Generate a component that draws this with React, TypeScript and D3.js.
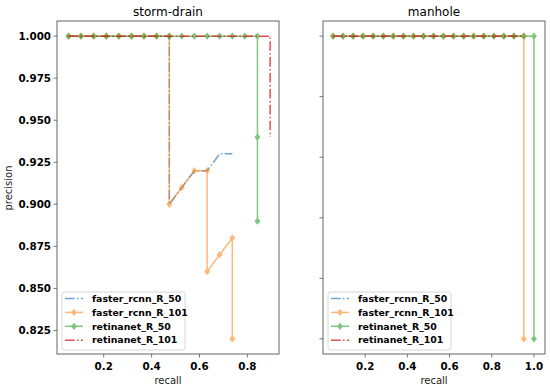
import React from 'react';
import * as d3 from 'd3';

// series names, in plotting order
const models = ['faster_rcnn_R_50', 'faster_rcnn_R_101', 'retinanet_R_50', 'retinanet_R_101'];
const colors = ['#1f77b4', '#ff7f0e', '#2ca02c', '#d62728'];

// storm-drain curves (recall / precision)
const stormFasterR50X = [0.053, 0.105, 0.158, 0.211, 0.263, 0.316, 0.368, 0.421, 0.474, 0.474, 0.526, 0.579, 0.632, 0.684, 0.737];
const stormFasterR50Y = [1, 1, 1, 1, 1, 1, 1, 1, 1, 0.9, 0.91, 0.92, 0.92, 0.93, 0.93];
const stormFasterR101X = [0.053, 0.105, 0.158, 0.211, 0.263, 0.316, 0.368, 0.421, 0.474, 0.474, 0.526, 0.579, 0.632, 0.632, 0.684, 0.737, 0.737];
const stormFasterR101Y = [1, 1, 1, 1, 1, 1, 1, 1, 1, 0.9, 0.91, 0.92, 0.92, 0.86, 0.87, 0.88, 0.82];
const stormRetinaR50X = [0.053, 0.105, 0.158, 0.211, 0.263, 0.316, 0.368, 0.421, 0.474, 0.526, 0.579, 0.632, 0.684, 0.737, 0.789, 0.842, 0.842, 0.842];
const stormRetinaR50Y = [1, 1, 1, 1, 1, 1, 1, 1, 1, 1, 1, 1, 1, 1, 1, 1, 0.94, 0.89];
const stormRetinaR101X = [0.053, 0.105, 0.158, 0.211, 0.263, 0.316, 0.368, 0.421, 0.474, 0.526, 0.579, 0.632, 0.684, 0.737, 0.789, 0.842, 0.895, 0.895];
const stormRetinaR101Y = [1, 1, 1, 1, 1, 1, 1, 1, 1, 1, 1, 1, 1, 1, 1, 1, 1, 0.94];

// manhole curves
const manholeFasterR50X = [0.048, 0.095, 0.143, 0.19, 0.238, 0.286, 0.333, 0.381, 0.429, 0.476, 0.524, 0.571, 0.619, 0.667, 0.714, 0.762, 0.81, 0.857, 0.905, 0.952];
const manholeFasterR50Y = [1, 1, 1, 1, 1, 1, 1, 1, 1, 1, 1, 1, 1, 1, 1, 1, 1, 1, 1, 1];
const manholeFasterR101X = [0.048, 0.095, 0.143, 0.19, 0.238, 0.286, 0.333, 0.381, 0.429, 0.476, 0.524, 0.571, 0.619, 0.667, 0.714, 0.762, 0.81, 0.857, 0.905, 0.952, 0.952];
const manholeFasterR101Y = [1, 1, 1, 1, 1, 1, 1, 1, 1, 1, 1, 1, 1, 1, 1, 1, 1, 1, 1, 1, 0.82];
const manholeRetinaR50X = [0.048, 0.095, 0.143, 0.19, 0.238, 0.286, 0.333, 0.381, 0.429, 0.476, 0.524, 0.571, 0.619, 0.667, 0.714, 0.762, 0.81, 0.857, 0.905, 0.952, 1.0, 1.0];
const manholeRetinaR50Y = [1, 1, 1, 1, 1, 1, 1, 1, 1, 1, 1, 1, 1, 1, 1, 1, 1, 1, 1, 1, 1, 0.82];
const manholeRetinaR101X = [0.048, 0.095, 0.143, 0.19, 0.238, 0.286, 0.333, 0.381, 0.429, 0.476, 0.524, 0.571, 0.619, 0.667, 0.714, 0.762, 0.81, 0.857, 0.905, 0.952];
const manholeRetinaR101Y = [1, 1, 1, 1, 1, 1, 1, 1, 1, 1, 1, 1, 1, 1, 1, 1, 1, 1, 1, 1];

// ticks
const stormYTicks = [0.825, 0.85, 0.875, 0.9, 0.925, 0.95, 0.975, 1.0];
const stormXTicks = [0.2, 0.4, 0.6, 0.8];
const manholeYTicks = [0.82, 0.856, 0.892, 0.928, 0.964, 1.0];
const manholeXTicks = [0.2, 0.4, 0.6, 0.8, 1.0];

const FONT = '"DejaVu Sans", sans-serif';
const DASHDOT = '9.6,2.4,1.5,2.4';
const lineStyle = [DASHDOT, null, null, DASHDOT];
const hasMarker = [false, true, true, false];
const seriesOpacity = [0.65, 0.55, 0.6, 0.8];

type Pt = [number, number];
const zip = (xs: number[], ys: number[]): Pt[] => xs.map((x, i) => [x, ys[i]]);

const diamond = (cx: number, cy: number) =>
  `M${cx},${cy - 3.6}L${cx + 3},${cy}L${cx},${cy + 3.6}L${cx - 3},${cy}Z`;

interface PanelProps {
  title: string;
  left: number;
  right: number;
  xDomain: [number, number];
  series: Pt[][];
  xTicks: number[];
  yTicks: number[];
  showYLabels: boolean;
  legendX: number;
}

const TOP = 21;
const BOTTOM = 354;

const Panel: React.FC<PanelProps> = ({ title, left, right, xDomain, series, xTicks, yTicks, showYLabels, legendX }) => {
  const x = d3.scaleLinear().domain(xDomain).range([left, right]);
  const y = d3.scaleLinear().domain([0.811, 1.009]).range([BOTTOM, TOP]);
  const line = d3
    .line<Pt>()
    .x((d) => x(d[0]))
    .y((d) => y(d[1]));
  const cx = (left + right) / 2;
  const legendY = 292;
  const rowH = 13.9;

  return (
    <g>
      <text x={cx} y={16} textAnchor="middle" fontSize={12} fontFamily={FONT} fill="#000">
        {title}
      </text>
      {/* series */}
      {series.map((pts, i) => (
        <g key={i} opacity={seriesOpacity[i]}>
          <path
            d={line(pts) as string}
            fill="none"
            stroke={colors[i]}
            strokeWidth={1.5}
            strokeDasharray={lineStyle[i] ?? undefined}
          />
          {hasMarker[i] &&
            pts.map((p, j) => <path key={j} d={diamond(x(p[0]), y(p[1]))} fill={colors[i]} />)}
        </g>
      ))}
      {/* frame */}
      <rect x={left} y={TOP} width={right - left} height={BOTTOM - TOP} fill="none" stroke="#555" strokeWidth={0.9} />
      {/* y ticks */}
      {yTicks.map((t) => (
        <g key={t}>
          <line x1={left - 3.5} x2={left} y1={y(t)} y2={y(t)} stroke="#555" strokeWidth={0.8} />
          {showYLabels && (
            <text x={left - 6} y={y(t)} dy="0.35em" textAnchor="end" fontSize={10.3} fontWeight="bold" fontFamily={FONT}>
              {d3.format('.3f')(t)}
            </text>
          )}
        </g>
      ))}
      {/* x ticks */}
      {xTicks.map((t) => (
        <g key={t}>
          <line x1={x(t)} x2={x(t)} y1={BOTTOM} y2={BOTTOM + 3.5} stroke="#555" strokeWidth={0.8} />
          <text x={x(t)} y={BOTTOM + 16} textAnchor="middle" fontSize={10.3} fontWeight="bold" fontFamily={FONT}>
            {d3.format('.1f')(t)}
          </text>
        </g>
      ))}
      <text x={cx} y={384} textAnchor="middle" fontSize={10} fontFamily={FONT} fill="#222">
        recall
      </text>
      {/* legend */}
      <rect x={legendX} y={legendY} width={123} height={58} rx={2.5} fill="#fff" fillOpacity={0.8} stroke="#ccc" strokeWidth={0.8} />
      {models.map((m, i) => {
        const ly = legendY + 6.5 + i * rowH;
        return (
          <g key={m}>
            <g opacity={seriesOpacity[i]}>
              <line
                x1={legendX + 3}
                x2={legendX + 21}
                y1={ly}
                y2={ly}
                stroke={colors[i]}
                strokeWidth={1.5}
                strokeDasharray={lineStyle[i] ?? undefined}
              />
              {hasMarker[i] && <path d={diamond(legendX + 12, ly)} fill={colors[i]} />}
            </g>
            <text x={legendX + 30} y={ly} dy="0.35em" fontSize={9.4} fontWeight="bold" fontFamily={FONT}>
              {m}
            </text>
          </g>
        );
      })}
    </g>
  );
};

const App: React.FC = () => {
  const storm: Pt[][] = [
    zip(stormFasterR50X, stormFasterR50Y),
    zip(stormFasterR101X, stormFasterR101Y),
    zip(stormRetinaR50X, stormRetinaR50Y),
    zip(stormRetinaR101X, stormRetinaR101Y),
  ];
  const manhole: Pt[][] = [
    zip(manholeFasterR50X, manholeFasterR50Y),
    zip(manholeFasterR101X, manholeFasterR101Y),
    zip(manholeRetinaR50X, manholeRetinaR50Y),
    zip(manholeRetinaR101X, manholeRetinaR101Y),
  ];
  return (
    <svg width={550} height={388} style={{ position: 'absolute', left: 0, top: 0, background: '#fff' }}>
      <Panel
        title="storm-drain"
        left={57}
        right={279}
        xDomain={[0.005, 0.932]}
        series={storm}
        xTicks={stormXTicks}
        yTicks={stormYTicks}
        showYLabels={true}
        legendX={62}
      />
      <Panel
        title="manhole"
        left={323}
        right={545}
        xDomain={[0, 1.0524]}
        series={manhole}
        xTicks={manholeXTicks}
        yTicks={manholeYTicks}
        showYLabels={false}
        legendX={328}
      />
      <text
        transform="translate(12,188) rotate(-90)"
        textAnchor="middle"
        fontSize={10}
        fontFamily={FONT}
        fill="#222"
      >
        precision
      </text>
    </svg>
  );
};

export default App;
